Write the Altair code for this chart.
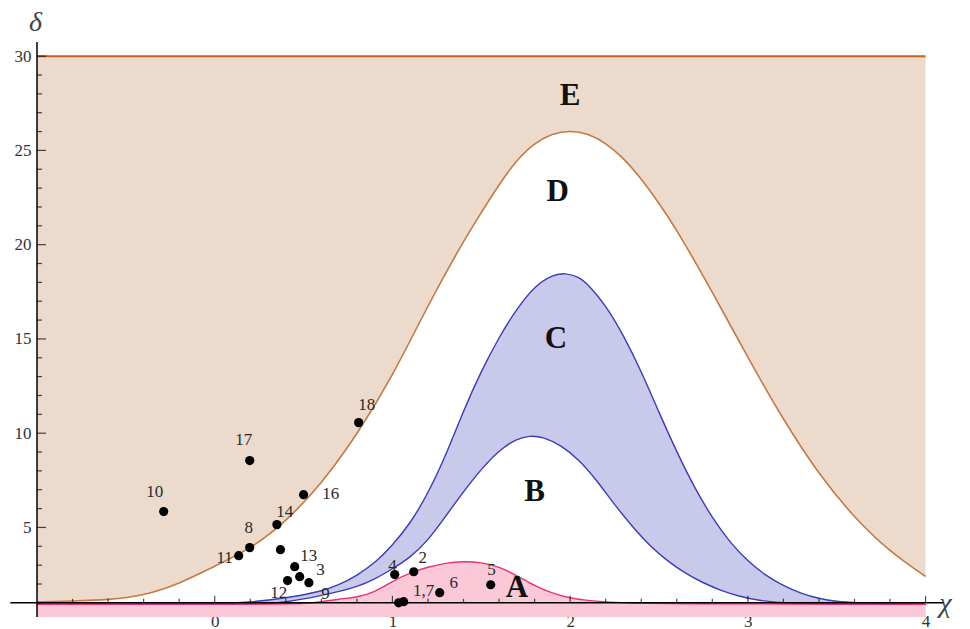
import altair as alt
import pandas as pd

# ---- curves ----
e_x = [-1.0, -0.8, -0.6, -0.4, -0.2, 0.0, 0.2, 0.4, 0.6, 0.8, 1.0, 1.2, 1.4, 1.5, 1.6, 1.7, 1.8, 1.9,
       2.0, 2.1, 2.2, 2.3, 2.4, 2.5, 2.6, 2.8, 3.0, 3.2, 3.4, 3.6, 3.8, 4.0]
e_y = [1.05, 1.1, 1.16, 1.38, 2.0, 2.95, 3.85, 5.3, 7.3, 9.9, 13.0, 16.8, 20.2, 21.7, 23.2, 24.5, 25.4, 25.9,
       26.05, 25.9, 25.4, 24.6, 23.5, 22.2, 20.8, 17.5, 14.0, 10.7, 7.8, 5.5, 3.7, 2.4]

c_x = [-1.0, -0.5, 0.0, 0.2, 0.4, 0.6, 0.7, 0.8, 0.9, 1.0, 1.1, 1.2, 1.3, 1.4, 1.5, 1.6, 1.7, 1.8, 1.9, 1.97,
       2.05, 2.1, 2.2, 2.3, 2.4, 2.5, 2.6, 2.7, 2.8, 2.9, 3.0, 3.1, 3.2, 3.3, 3.4, 3.5, 3.6, 3.8, 4.0]
c_y = [0.93, 0.93, 0.95, 1.03, 1.25, 1.6, 1.95, 2.45, 3.1, 4.05, 5.2, 6.8, 8.8, 11.2, 13.3, 15.1, 16.6, 17.8, 18.4, 18.5,
       18.3, 17.9, 16.8, 15.2, 13.3, 11.1, 9.0, 7.1, 5.5, 4.2, 3.2, 2.45, 1.9, 1.5, 1.22, 1.07, 1.0, 0.95, 0.93]

b_x = [-1.0, 0.0, 0.3, 0.4, 0.5, 0.6, 0.7, 0.8, 0.9, 1.0, 1.1, 1.2, 1.3, 1.4, 1.5, 1.6, 1.7, 1.77, 1.85,
       1.95, 2.05, 2.15, 2.25, 2.35, 2.45, 2.55, 2.65, 2.75, 2.85, 2.95, 3.05, 3.2, 3.4, 4.0]
b_y = [0.93, 0.93, 0.95, 1.05, 1.2, 1.4, 1.6, 1.85, 2.25, 2.8, 3.4, 4.3, 5.6, 6.9, 8.1, 9.1, 9.7, 9.87, 9.8,
       9.35, 8.6, 7.5, 6.2, 5.05, 4.0, 3.2, 2.55, 2.05, 1.65, 1.35, 1.14, 0.98, 0.93, 0.93]

a_x = [-1.0, 0.4, 0.5, 0.6, 0.7, 0.8, 0.9, 1.0, 1.1, 1.2, 1.3, 1.4, 1.5, 1.6, 1.7, 1.8, 1.9, 2.0, 2.1, 2.2,
       2.3, 2.5, 4.0]
a_y = [0.93, 0.93, 0.97, 1.05, 1.2, 1.3, 1.55, 2.15, 2.6, 2.9, 3.12, 3.2, 3.15, 2.92, 2.45, 1.9, 1.5, 1.25, 1.12, 1.05,
       1.0, 0.95, 0.93]

# ---- data points ----
pt_id = ["1", "7", "2", "3", "4", "5", "6", "8", "9", "10", "11", "12", "13", "14", "15", "16", "17", "18"]
pt_x = [1.035, 1.063, 1.12, 0.478, 1.013, 1.553, 1.266, 0.197, 0.53, -0.287, 0.135, 0.41, 0.45, 0.35, 0.37, 0.50, 0.197, 0.81]
pt_y = [1.0, 1.06, 2.65, 2.39, 2.5, 1.96, 1.54, 3.93, 2.07, 5.84, 3.5, 2.18, 2.92, 5.15, 3.82, 6.74, 8.55, 10.56]

# point label annotations
lab_text = ["10", "17", "14", "8", "11", "13", "3", "12", "9", "4", "2", "1,7", "6", "5", "16", "18"]
lab_x = [-0.338, 0.163, 0.394, 0.191, 0.056, 0.529, 0.595, 0.36, 0.624, 1.001, 1.17, 1.176, 1.345, 1.558, 0.653, 0.855]
lab_y = [6.9, 9.66, 5.84, 4.99, 3.40, 3.5, 2.72, 1.54, 1.49, 2.97, 3.40, 1.65, 2.07, 2.76, 6.79, 11.52]

# region letters
reg_text = ["A", "B", "C", "D", "E"]
reg_x = [1.70, 1.80, 1.92, 1.93, 2.0]
reg_y = [1.8, 6.9, 15.0, 22.8, 27.9]

# axis ticks
x_major = [0, 1, 2, 3, 4]
x_minor = [-0.8, -0.6, -0.4, -0.2, 0.2, 0.4, 0.6, 0.8, 1.2, 1.4, 1.6, 1.8, 2.2, 2.4, 2.6, 2.8,
           3.2, 3.4, 3.6, 3.8]
y_major = [5, 10, 15, 20, 25, 30]
y_minor = [1, 2, 3, 4, 6, 7, 8, 9, 11, 12, 13, 14, 16, 17, 18, 19, 21, 22, 23, 24, 26, 27, 28, 29]

Y_BOTTOM = 0.25
TOP_LINE = 30
AXIS_Y = 1
AXIS_X = -1

xs = alt.Scale(domain=[-1, 4.25], nice=False, zero=False)
ys = alt.Scale(domain=[0.25, 30.75], nice=False, zero=False)

FONT = "Liberation Serif"

x_axis = alt.Axis(values=x_major, ticks=False, domain=False, grid=False, labelPadding=-4,
                  labelFont=FONT, labelFontSize=17, labelColor="#333333",
                  title="χ", titleFont=FONT, titleFontStyle="italic", titleFontWeight="normal",
                  titleFontSize=28, titleColor="#444444", titleX=908, titleY=-14,
                  titleAlign="center", titleBaseline="middle")
y_axis = alt.Axis(values=y_major, ticks=False, domain=False, grid=False, labelPadding=6,
                  labelFont=FONT, labelFontSize=17, labelColor="#333333",
                  title="δ", titleFont=FONT, titleFontStyle="italic", titleFontWeight="normal",
                  titleFontSize=28, titleColor="#444444", titleAngle=0, titleX=-2, titleY=-20,
                  titleAlign="center", titleBaseline="middle")


def X():
    return alt.X("x:Q", scale=xs, axis=x_axis)


def Y():
    return alt.Y("y:Q", scale=ys, axis=y_axis)


e_df = pd.DataFrame({"x": e_x, "y": e_y})
c_df = pd.DataFrame({"x": c_x, "y": c_y})
b_df = pd.DataFrame({"x": b_x, "y": b_y})
a_df = pd.DataFrame({"x": a_x, "y": a_y})

INTERP = "basis"

e_fill = alt.Chart(e_df).mark_area(color="#ecdacd", opacity=1, interpolate=INTERP).encode(
    x=X(), y=Y(), y2=alt.datum(TOP_LINE))
c_fill = alt.Chart(c_df).mark_area(color="#c9c9ec", opacity=1, interpolate=INTERP).encode(
    x=X(), y=Y(), y2=alt.datum(Y_BOTTOM))
b_fill = alt.Chart(b_df).mark_area(color="#ffffff", opacity=1, interpolate=INTERP).encode(
    x=X(), y=Y(), y2=alt.datum(Y_BOTTOM))
a_fill = alt.Chart(a_df).mark_area(color="#fac8d7", opacity=1, interpolate=INTERP).encode(
    x=X(), y=Y(), y2=alt.datum(Y_BOTTOM))

e_line = alt.Chart(e_df).mark_line(color="#c47a45", strokeWidth=1.6, interpolate=INTERP).encode(x=X(), y=Y())
c_line = alt.Chart(c_df).mark_line(color="#3c3cb4", strokeWidth=1.4, interpolate=INTERP).encode(x=X(), y=Y())
b_line = alt.Chart(b_df).mark_line(color="#3c3cb4", strokeWidth=1.4, interpolate=INTERP).encode(x=X(), y=Y())
a_line = alt.Chart(a_df).mark_line(color="#eb326e", strokeWidth=1.4, interpolate=INTERP).encode(x=X(), y=Y())

top_df = pd.DataFrame({"x": [-1.0], "x2": [4.0], "y": [TOP_LINE]})
top_line = alt.Chart(top_df).mark_rule(color="#c8601e", strokeWidth=2).encode(
    x=X(), x2="x2:Q", y=Y())

xaxis_df = pd.DataFrame({"x": [-1.15], "x2": [4.1], "y": [AXIS_Y]})
xaxis_line = alt.Chart(xaxis_df).mark_rule(color="black", strokeWidth=1.5).encode(
    x=X(), x2="x2:Q", y=Y())
yaxis_df = pd.DataFrame({"x": [AXIS_X], "y": [Y_BOTTOM], "y2": [30.75]})
yaxis_line = alt.Chart(yaxis_df).mark_rule(color="black", strokeWidth=1.5).encode(
    x=X(), y=Y(), y2="y2:Q")

xmaj = alt.Chart(pd.DataFrame({"x": x_major, "y": AXIS_Y})).mark_tick(
    orient="vertical", size=7, thickness=1.2, color="black", yOffset=-3.5).encode(x=X(), y=Y())
xmin = alt.Chart(pd.DataFrame({"x": x_minor, "y": AXIS_Y})).mark_tick(
    orient="vertical", size=4, thickness=1.2, color="black", yOffset=-2).encode(x=X(), y=Y())
ymaj = alt.Chart(pd.DataFrame({"x": AXIS_X, "y": y_major})).mark_tick(
    orient="horizontal", size=9, thickness=1.2, color="black", xOffset=4.5).encode(x=X(), y=Y())
ymin = alt.Chart(pd.DataFrame({"x": AXIS_X, "y": y_minor})).mark_tick(
    orient="horizontal", size=5, thickness=1.2, color="black", xOffset=2.5).encode(x=X(), y=Y())

pts = alt.Chart(pd.DataFrame({"x": pt_x, "y": pt_y, "id": pt_id})).mark_circle(
    size=85, color="black", opacity=1).encode(x=X(), y=Y())

labs = alt.Chart(pd.DataFrame({"x": lab_x, "y": lab_y, "t": lab_text})).mark_text(
    font=FONT, fontSize=17, color="#2a2a2a").encode(x=X(), y=Y(), text="t:N")

regs = alt.Chart(pd.DataFrame({"x": reg_x, "y": reg_y, "t": reg_text})).mark_text(
    font=FONT, fontSize=31, fontWeight="bold", color="#111111").encode(x=X(), y=Y(), text="t:N")

chart = alt.layer(
    e_fill, c_fill, b_fill, a_fill,
    e_line, c_line, b_line, a_line, top_line,
    xaxis_line, yaxis_line, xmaj, xmin, ymaj, ymin,
    pts, labs, regs
).properties(
    width=933, height=575,
    autosize=alt.AutoSizeParams(type="none"),
    padding={"left": 37, "top": 42, "right": 0, "bottom": 12}
).configure_view(stroke=None)

chart.save("out.html", embed_options={"renderer": "svg", "actions": False})
